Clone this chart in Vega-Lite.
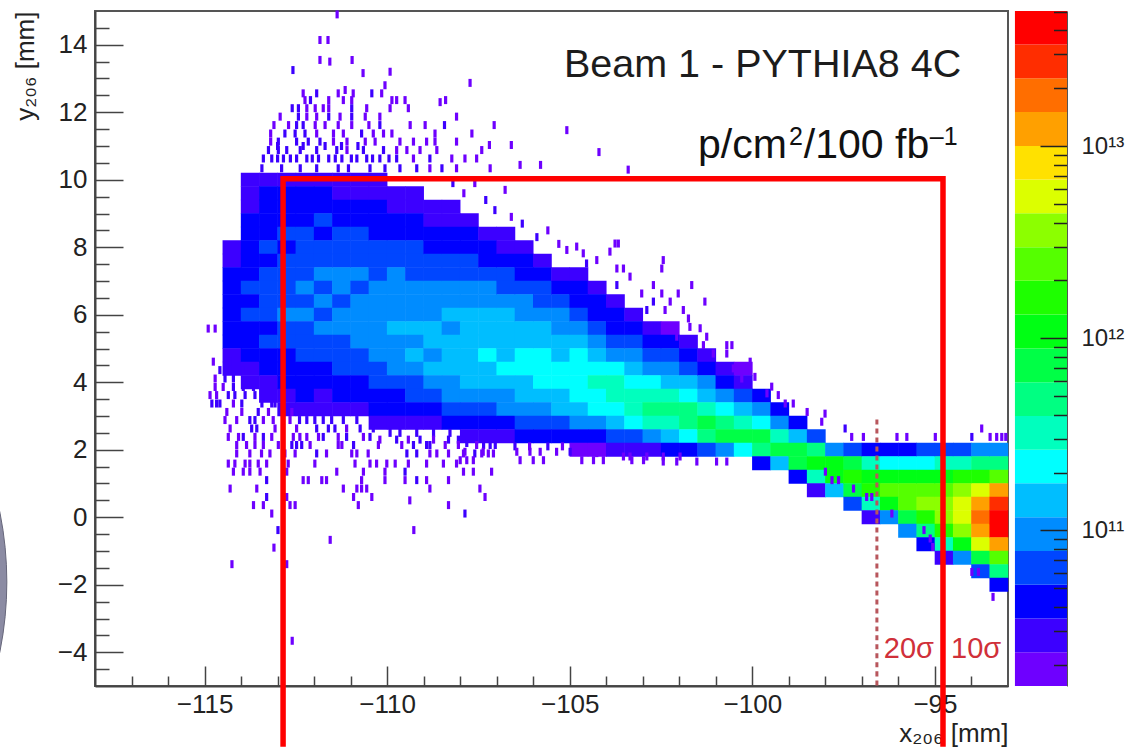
{"$schema":"https://vega.github.io/schema/vega-lite/v6.json","width":913,"height":675,"autosize":"none","padding":{"left":95,"top":11,"right":122,"bottom":61},"background":"white","config":{"font":"Liberation Sans","view":{"stroke":"#555","strokeWidth":2}},
"datasets":{"body":[
{"x":-114.25,"y":8,"v":3},{"x":-114.25,"y":7.6,"v":3},{"x":-114.25,"y":7.2,"v":4},{"x":-114.25,"y":6.8,"v":4},{"x":-114.25,"y":6.4,"v":4},{"x":-114.25,"y":6,"v":4},{"x":-114.25,"y":5.6,"v":4},{"x":-114.25,"y":5.2,"v":4},{"x":-114.25,"y":4.8,"v":3},{"x":-114.25,"y":4.4,"v":3},
{"x":-113.75,"y":10,"v":3},{"x":-113.75,"y":9.6,"v":3},{"x":-113.75,"y":9.2,"v":3},{"x":-113.75,"y":8.8,"v":4},{"x":-113.75,"y":8.4,"v":4},{"x":-113.75,"y":8,"v":4},{"x":-113.75,"y":7.6,"v":4},{"x":-113.75,"y":7.2,"v":4},{"x":-113.75,"y":6.8,"v":6},{"x":-113.75,"y":6.4,"v":4},{"x":-113.75,"y":6,"v":6},{"x":-113.75,"y":5.6,"v":4},{"x":-113.75,"y":5.2,"v":4},{"x":-113.75,"y":4.8,"v":4},{"x":-113.75,"y":4.4,"v":3},{"x":-113.75,"y":4,"v":3},
{"x":-113.25,"y":10,"v":3},{"x":-113.25,"y":9.6,"v":4},{"x":-113.25,"y":9.2,"v":4},{"x":-113.25,"y":8.8,"v":4},{"x":-113.25,"y":8.4,"v":4},{"x":-113.25,"y":8,"v":6},{"x":-113.25,"y":7.6,"v":4},{"x":-113.25,"y":7.2,"v":6},{"x":-113.25,"y":6.8,"v":6},{"x":-113.25,"y":6.4,"v":6},{"x":-113.25,"y":6,"v":6},{"x":-113.25,"y":5.6,"v":4},{"x":-113.25,"y":5.2,"v":6},{"x":-113.25,"y":4.8,"v":4},{"x":-113.25,"y":4.4,"v":4},{"x":-113.25,"y":4,"v":3},{"x":-113.25,"y":3.6,"v":3},
{"x":-112.75,"y":10,"v":3},{"x":-112.75,"y":9.6,"v":4},{"x":-112.75,"y":9.2,"v":4},{"x":-112.75,"y":8.8,"v":4},{"x":-112.75,"y":8.4,"v":6},{"x":-112.75,"y":8,"v":4},{"x":-112.75,"y":7.6,"v":6},{"x":-112.75,"y":7.2,"v":6},{"x":-112.75,"y":6.8,"v":6},{"x":-112.75,"y":6.4,"v":6},{"x":-112.75,"y":6,"v":10},{"x":-112.75,"y":5.6,"v":6},{"x":-112.75,"y":5.2,"v":6},{"x":-112.75,"y":4.8,"v":4},{"x":-112.75,"y":4.4,"v":4},{"x":-112.75,"y":4,"v":4},{"x":-112.75,"y":3.6,"v":3},{"x":-112.75,"y":3.2,"v":3},
{"x":-112.25,"y":10,"v":3},{"x":-112.25,"y":9.6,"v":4},{"x":-112.25,"y":9.2,"v":4},{"x":-112.25,"y":8.8,"v":4},{"x":-112.25,"y":8.4,"v":6},{"x":-112.25,"y":8,"v":6},{"x":-112.25,"y":7.6,"v":6},{"x":-112.25,"y":7.2,"v":6},{"x":-112.25,"y":6.8,"v":10},{"x":-112.25,"y":6.4,"v":6},{"x":-112.25,"y":6,"v":10},{"x":-112.25,"y":5.6,"v":6},{"x":-112.25,"y":5.2,"v":6},{"x":-112.25,"y":4.8,"v":6},{"x":-112.25,"y":4.4,"v":4},{"x":-112.25,"y":4,"v":4},{"x":-112.25,"y":3.6,"v":4},{"x":-112.25,"y":3.2,"v":3},
{"x":-111.75,"y":10,"v":3},{"x":-111.75,"y":9.6,"v":4},{"x":-111.75,"y":9.2,"v":4},{"x":-111.75,"y":8.8,"v":6},{"x":-111.75,"y":8.4,"v":4},{"x":-111.75,"y":8,"v":6},{"x":-111.75,"y":7.6,"v":6},{"x":-111.75,"y":7.2,"v":10},{"x":-111.75,"y":6.8,"v":6},{"x":-111.75,"y":6.4,"v":10},{"x":-111.75,"y":6,"v":6},{"x":-111.75,"y":5.6,"v":10},{"x":-111.75,"y":5.2,"v":6},{"x":-111.75,"y":4.8,"v":6},{"x":-111.75,"y":4.4,"v":4},{"x":-111.75,"y":4,"v":4},{"x":-111.75,"y":3.6,"v":3},{"x":-111.75,"y":3.2,"v":3},
{"x":-111.25,"y":10,"v":3},{"x":-111.25,"y":9.6,"v":3},{"x":-111.25,"y":9.2,"v":4},{"x":-111.25,"y":8.8,"v":4},{"x":-111.25,"y":8.4,"v":6},{"x":-111.25,"y":8,"v":6},{"x":-111.25,"y":7.6,"v":6},{"x":-111.25,"y":7.2,"v":10},{"x":-111.25,"y":6.8,"v":10},{"x":-111.25,"y":6.4,"v":6},{"x":-111.25,"y":6,"v":10},{"x":-111.25,"y":5.6,"v":10},{"x":-111.25,"y":5.2,"v":6},{"x":-111.25,"y":4.8,"v":6},{"x":-111.25,"y":4.4,"v":6},{"x":-111.25,"y":4,"v":4},{"x":-111.25,"y":3.6,"v":4},{"x":-111.25,"y":3.2,"v":3},
{"x":-110.75,"y":10,"v":3},{"x":-110.75,"y":9.6,"v":3},{"x":-110.75,"y":9.2,"v":4},{"x":-110.75,"y":8.8,"v":4},{"x":-110.75,"y":8.4,"v":6},{"x":-110.75,"y":8,"v":6},{"x":-110.75,"y":7.6,"v":6},{"x":-110.75,"y":7.2,"v":10},{"x":-110.75,"y":6.8,"v":6},{"x":-110.75,"y":6.4,"v":10},{"x":-110.75,"y":6,"v":10},{"x":-110.75,"y":5.6,"v":10},{"x":-110.75,"y":5.2,"v":10},{"x":-110.75,"y":4.8,"v":6},{"x":-110.75,"y":4.4,"v":6},{"x":-110.75,"y":4,"v":4},{"x":-110.75,"y":3.6,"v":4},{"x":-110.75,"y":3.2,"v":3},
{"x":-110.25,"y":10,"v":3},{"x":-110.25,"y":9.6,"v":3},{"x":-110.25,"y":9.2,"v":4},{"x":-110.25,"y":8.8,"v":4},{"x":-110.25,"y":8.4,"v":4},{"x":-110.25,"y":8,"v":6},{"x":-110.25,"y":7.6,"v":6},{"x":-110.25,"y":7.2,"v":6},{"x":-110.25,"y":6.8,"v":10},{"x":-110.25,"y":6.4,"v":10},{"x":-110.25,"y":6,"v":10},{"x":-110.25,"y":5.6,"v":10},{"x":-110.25,"y":5.2,"v":10},{"x":-110.25,"y":4.8,"v":10},{"x":-110.25,"y":4.4,"v":6},{"x":-110.25,"y":4,"v":6},{"x":-110.25,"y":3.6,"v":4},{"x":-110.25,"y":3.2,"v":4},{"x":-110.25,"y":2.8,"v":3},
{"x":-109.75,"y":9.6,"v":3},{"x":-109.75,"y":9.2,"v":3},{"x":-109.75,"y":8.8,"v":4},{"x":-109.75,"y":8.4,"v":4},{"x":-109.75,"y":8,"v":6},{"x":-109.75,"y":7.6,"v":6},{"x":-109.75,"y":7.2,"v":10},{"x":-109.75,"y":6.8,"v":10},{"x":-109.75,"y":6.4,"v":10},{"x":-109.75,"y":6,"v":10},{"x":-109.75,"y":5.6,"v":14},{"x":-109.75,"y":5.2,"v":10},{"x":-109.75,"y":4.8,"v":10},{"x":-109.75,"y":4.4,"v":10},{"x":-109.75,"y":4,"v":6},{"x":-109.75,"y":3.6,"v":4},{"x":-109.75,"y":3.2,"v":4},{"x":-109.75,"y":2.8,"v":3},
{"x":-109.25,"y":9.6,"v":3},{"x":-109.25,"y":9.2,"v":3},{"x":-109.25,"y":8.8,"v":4},{"x":-109.25,"y":8.4,"v":4},{"x":-109.25,"y":8,"v":6},{"x":-109.25,"y":7.6,"v":6},{"x":-109.25,"y":7.2,"v":6},{"x":-109.25,"y":6.8,"v":10},{"x":-109.25,"y":6.4,"v":10},{"x":-109.25,"y":6,"v":10},{"x":-109.25,"y":5.6,"v":14},{"x":-109.25,"y":5.2,"v":10},{"x":-109.25,"y":4.8,"v":14},{"x":-109.25,"y":4.4,"v":10},{"x":-109.25,"y":4,"v":6},{"x":-109.25,"y":3.6,"v":6},{"x":-109.25,"y":3.2,"v":4},{"x":-109.25,"y":2.8,"v":3},
{"x":-108.75,"y":9.2,"v":3},{"x":-108.75,"y":8.8,"v":3},{"x":-108.75,"y":8.4,"v":4},{"x":-108.75,"y":8,"v":4},{"x":-108.75,"y":7.6,"v":6},{"x":-108.75,"y":7.2,"v":6},{"x":-108.75,"y":6.8,"v":10},{"x":-108.75,"y":6.4,"v":10},{"x":-108.75,"y":6,"v":10},{"x":-108.75,"y":5.6,"v":14},{"x":-108.75,"y":5.2,"v":14},{"x":-108.75,"y":4.8,"v":10},{"x":-108.75,"y":4.4,"v":14},{"x":-108.75,"y":4,"v":10},{"x":-108.75,"y":3.6,"v":6},{"x":-108.75,"y":3.2,"v":4},{"x":-108.75,"y":2.8,"v":3},
{"x":-108.25,"y":9.2,"v":3},{"x":-108.25,"y":8.8,"v":3},{"x":-108.25,"y":8.4,"v":4},{"x":-108.25,"y":8,"v":4},{"x":-108.25,"y":7.6,"v":6},{"x":-108.25,"y":7.2,"v":6},{"x":-108.25,"y":6.8,"v":10},{"x":-108.25,"y":6.4,"v":10},{"x":-108.25,"y":6,"v":14},{"x":-108.25,"y":5.6,"v":10},{"x":-108.25,"y":5.2,"v":14},{"x":-108.25,"y":4.8,"v":14},{"x":-108.25,"y":4.4,"v":14},{"x":-108.25,"y":4,"v":10},{"x":-108.25,"y":3.6,"v":10},{"x":-108.25,"y":3.2,"v":6},{"x":-108.25,"y":2.8,"v":4},
{"x":-107.75,"y":8.8,"v":3},{"x":-107.75,"y":8.4,"v":4},{"x":-107.75,"y":8,"v":4},{"x":-107.75,"y":7.6,"v":6},{"x":-107.75,"y":7.2,"v":6},{"x":-107.75,"y":6.8,"v":10},{"x":-107.75,"y":6.4,"v":10},{"x":-107.75,"y":6,"v":14},{"x":-107.75,"y":5.6,"v":14},{"x":-107.75,"y":5.2,"v":14},{"x":-107.75,"y":4.8,"v":14},{"x":-107.75,"y":4.4,"v":14},{"x":-107.75,"y":4,"v":14},{"x":-107.75,"y":3.6,"v":10},{"x":-107.75,"y":3.2,"v":6},{"x":-107.75,"y":2.8,"v":4},{"x":-107.75,"y":2.4,"v":3},
{"x":-107.25,"y":8.4,"v":3},{"x":-107.25,"y":8,"v":4},{"x":-107.25,"y":7.6,"v":4},{"x":-107.25,"y":7.2,"v":6},{"x":-107.25,"y":6.8,"v":10},{"x":-107.25,"y":6.4,"v":10},{"x":-107.25,"y":6,"v":14},{"x":-107.25,"y":5.6,"v":14},{"x":-107.25,"y":5.2,"v":14},{"x":-107.25,"y":4.8,"v":21},{"x":-107.25,"y":4.4,"v":14},{"x":-107.25,"y":4,"v":14},{"x":-107.25,"y":3.6,"v":10},{"x":-107.25,"y":3.2,"v":6},{"x":-107.25,"y":2.8,"v":4},{"x":-107.25,"y":2.4,"v":3},
{"x":-106.75,"y":8.4,"v":3},{"x":-106.75,"y":8,"v":3},{"x":-106.75,"y":7.6,"v":4},{"x":-106.75,"y":7.2,"v":6},{"x":-106.75,"y":6.8,"v":6},{"x":-106.75,"y":6.4,"v":10},{"x":-106.75,"y":6,"v":14},{"x":-106.75,"y":5.6,"v":14},{"x":-106.75,"y":5.2,"v":14},{"x":-106.75,"y":4.8,"v":14},{"x":-106.75,"y":4.4,"v":21},{"x":-106.75,"y":4,"v":14},{"x":-106.75,"y":3.6,"v":10},{"x":-106.75,"y":3.2,"v":10},{"x":-106.75,"y":2.8,"v":4},{"x":-106.75,"y":2.4,"v":3},
{"x":-106.25,"y":8,"v":3},{"x":-106.25,"y":7.6,"v":4},{"x":-106.25,"y":7.2,"v":4},{"x":-106.25,"y":6.8,"v":6},{"x":-106.25,"y":6.4,"v":10},{"x":-106.25,"y":6,"v":10},{"x":-106.25,"y":5.6,"v":14},{"x":-106.25,"y":5.2,"v":14},{"x":-106.25,"y":4.8,"v":21},{"x":-106.25,"y":4.4,"v":21},{"x":-106.25,"y":4,"v":14},{"x":-106.25,"y":3.6,"v":14},{"x":-106.25,"y":3.2,"v":10},{"x":-106.25,"y":2.8,"v":6},{"x":-106.25,"y":2.4,"v":4},
{"x":-105.75,"y":7.6,"v":3},{"x":-105.75,"y":7.2,"v":4},{"x":-105.75,"y":6.8,"v":6},{"x":-105.75,"y":6.4,"v":6},{"x":-105.75,"y":6,"v":10},{"x":-105.75,"y":5.6,"v":14},{"x":-105.75,"y":5.2,"v":14},{"x":-105.75,"y":4.8,"v":21},{"x":-105.75,"y":4.4,"v":21},{"x":-105.75,"y":4,"v":21},{"x":-105.75,"y":3.6,"v":14},{"x":-105.75,"y":3.2,"v":10},{"x":-105.75,"y":2.8,"v":6},{"x":-105.75,"y":2.4,"v":4},
{"x":-105.25,"y":7.2,"v":3},{"x":-105.25,"y":6.8,"v":4},{"x":-105.25,"y":6.4,"v":6},{"x":-105.25,"y":6,"v":10},{"x":-105.25,"y":5.6,"v":10},{"x":-105.25,"y":5.2,"v":14},{"x":-105.25,"y":4.8,"v":14},{"x":-105.25,"y":4.4,"v":21},{"x":-105.25,"y":4,"v":21},{"x":-105.25,"y":3.6,"v":14},{"x":-105.25,"y":3.2,"v":14},{"x":-105.25,"y":2.8,"v":6},{"x":-105.25,"y":2.4,"v":4},
{"x":-104.75,"y":7.2,"v":3},{"x":-104.75,"y":6.8,"v":4},{"x":-104.75,"y":6.4,"v":4},{"x":-104.75,"y":6,"v":6},{"x":-104.75,"y":5.6,"v":10},{"x":-104.75,"y":5.2,"v":14},{"x":-104.75,"y":4.8,"v":21},{"x":-104.75,"y":4.4,"v":21},{"x":-104.75,"y":4,"v":21},{"x":-104.75,"y":3.6,"v":21},{"x":-104.75,"y":3.2,"v":14},{"x":-104.75,"y":2.8,"v":10},{"x":-104.75,"y":2.4,"v":4},{"x":-104.75,"y":2,"v":2},
{"x":-104.25,"y":6.8,"v":3},{"x":-104.25,"y":6.4,"v":4},{"x":-104.25,"y":6,"v":4},{"x":-104.25,"y":5.6,"v":6},{"x":-104.25,"y":5.2,"v":10},{"x":-104.25,"y":4.8,"v":14},{"x":-104.25,"y":4.4,"v":21},{"x":-104.25,"y":4,"v":32},{"x":-104.25,"y":3.6,"v":21},{"x":-104.25,"y":3.2,"v":21},{"x":-104.25,"y":2.8,"v":10},{"x":-104.25,"y":2.4,"v":4},{"x":-104.25,"y":2,"v":2},
{"x":-103.75,"y":6.4,"v":3},{"x":-103.75,"y":6,"v":4},{"x":-103.75,"y":5.6,"v":4},{"x":-103.75,"y":5.2,"v":6},{"x":-103.75,"y":4.8,"v":10},{"x":-103.75,"y":4.4,"v":21},{"x":-103.75,"y":4,"v":32},{"x":-103.75,"y":3.6,"v":32},{"x":-103.75,"y":3.2,"v":21},{"x":-103.75,"y":2.8,"v":14},{"x":-103.75,"y":2.4,"v":6},{"x":-103.75,"y":2,"v":3},
{"x":-103.25,"y":6,"v":3},{"x":-103.25,"y":5.6,"v":4},{"x":-103.25,"y":5.2,"v":6},{"x":-103.25,"y":4.8,"v":10},{"x":-103.25,"y":4.4,"v":14},{"x":-103.25,"y":4,"v":21},{"x":-103.25,"y":3.6,"v":32},{"x":-103.25,"y":3.2,"v":32},{"x":-103.25,"y":2.8,"v":21},{"x":-103.25,"y":2.4,"v":6},{"x":-103.25,"y":2,"v":3},
{"x":-102.75,"y":5.6,"v":3},{"x":-102.75,"y":5.2,"v":4},{"x":-102.75,"y":4.8,"v":6},{"x":-102.75,"y":4.4,"v":10},{"x":-102.75,"y":4,"v":21},{"x":-102.75,"y":3.6,"v":32},{"x":-102.75,"y":3.2,"v":48},{"x":-102.75,"y":2.8,"v":32},{"x":-102.75,"y":2.4,"v":10},{"x":-102.75,"y":2,"v":3},
{"x":-102.25,"y":5.6,"v":2},{"x":-102.25,"y":5.2,"v":4},{"x":-102.25,"y":4.8,"v":6},{"x":-102.25,"y":4.4,"v":10},{"x":-102.25,"y":4,"v":14},{"x":-102.25,"y":3.6,"v":32},{"x":-102.25,"y":3.2,"v":48},{"x":-102.25,"y":2.8,"v":32},{"x":-102.25,"y":2.4,"v":14},{"x":-102.25,"y":2,"v":4},
{"x":-101.75,"y":5.2,"v":3},{"x":-101.75,"y":4.8,"v":4},{"x":-101.75,"y":4.4,"v":6},{"x":-101.75,"y":4,"v":14},{"x":-101.75,"y":3.6,"v":21},{"x":-101.75,"y":3.2,"v":48},{"x":-101.75,"y":2.8,"v":48},{"x":-101.75,"y":2.4,"v":21},{"x":-101.75,"y":2,"v":4},
{"x":-101.25,"y":4.8,"v":3},{"x":-101.25,"y":4.4,"v":4},{"x":-101.25,"y":4,"v":10},{"x":-101.25,"y":3.6,"v":14},{"x":-101.25,"y":3.2,"v":32},{"x":-101.25,"y":2.8,"v":72},{"x":-101.25,"y":2.4,"v":48},{"x":-101.25,"y":2,"v":6},
{"x":-100.75,"y":4.4,"v":3},{"x":-100.75,"y":4,"v":4},{"x":-100.75,"y":3.6,"v":10},{"x":-100.75,"y":3.2,"v":21},{"x":-100.75,"y":2.8,"v":48},{"x":-100.75,"y":2.4,"v":72},{"x":-100.75,"y":2,"v":10},
{"x":-100.25,"y":4.4,"v":2},{"x":-100.25,"y":4,"v":3},{"x":-100.25,"y":3.6,"v":6},{"x":-100.25,"y":3.2,"v":14},{"x":-100.25,"y":2.8,"v":32},{"x":-100.25,"y":2.4,"v":72},{"x":-100.25,"y":2,"v":21},
{"x":-99.75,"y":3.6,"v":4},{"x":-99.75,"y":3.2,"v":10},{"x":-99.75,"y":2.8,"v":21},{"x":-99.75,"y":2.4,"v":72},{"x":-99.75,"y":2,"v":48},{"x":-99.75,"y":1.6,"v":4},
{"x":-99.25,"y":3.2,"v":4},{"x":-99.25,"y":2.8,"v":10},{"x":-99.25,"y":2.4,"v":32},{"x":-99.25,"y":2,"v":72},{"x":-99.25,"y":1.6,"v":14},
{"x":-98.75,"y":2.8,"v":4},{"x":-98.75,"y":2.4,"v":14},{"x":-98.75,"y":2,"v":72},{"x":-98.75,"y":1.6,"v":72},{"x":-98.75,"y":1.2,"v":4},
{"x":-98.25,"y":2.4,"v":6},{"x":-98.25,"y":2,"v":48},{"x":-98.25,"y":1.6,"v":108},{"x":-98.25,"y":1.2,"v":32},{"x":-98.25,"y":0.8,"v":3},
{"x":-97.75,"y":2,"v":10},{"x":-97.75,"y":1.6,"v":108},{"x":-97.75,"y":1.2,"v":108},{"x":-97.75,"y":0.8,"v":14},
{"x":-97.25,"y":2,"v":6},{"x":-97.25,"y":1.6,"v":72},{"x":-97.25,"y":1.2,"v":162},{"x":-97.25,"y":0.8,"v":72},{"x":-97.25,"y":0.4,"v":6},
{"x":-96.75,"y":2,"v":4},{"x":-96.75,"y":1.6,"v":32},{"x":-96.75,"y":1.2,"v":108},{"x":-96.75,"y":0.8,"v":162},{"x":-96.75,"y":0.4,"v":32},{"x":-96.75,"y":0,"v":3},
{"x":-96.25,"y":2,"v":4},{"x":-96.25,"y":1.6,"v":21},{"x":-96.25,"y":1.2,"v":108},{"x":-96.25,"y":0.8,"v":243},{"x":-96.25,"y":0.4,"v":108},{"x":-96.25,"y":0,"v":10},
{"x":-95.75,"y":2,"v":4},{"x":-95.75,"y":1.6,"v":21},{"x":-95.75,"y":1.2,"v":108},{"x":-95.75,"y":0.8,"v":243},{"x":-95.75,"y":0.4,"v":243},{"x":-95.75,"y":0,"v":72},{"x":-95.75,"y":-0.4,"v":10},
{"x":-95.25,"y":2,"v":6},{"x":-95.25,"y":1.6,"v":21},{"x":-95.25,"y":1.2,"v":108},{"x":-95.25,"y":0.8,"v":243},{"x":-95.25,"y":0.4,"v":365},{"x":-95.25,"y":0,"v":162},{"x":-95.25,"y":-0.4,"v":48},{"x":-95.25,"y":-0.8,"v":4},
{"x":-94.75,"y":2,"v":6},{"x":-94.75,"y":1.6,"v":32},{"x":-94.75,"y":1.2,"v":108},{"x":-94.75,"y":0.8,"v":243},{"x":-94.75,"y":0.4,"v":365},{"x":-94.75,"y":0,"v":365},{"x":-94.75,"y":-0.4,"v":162},{"x":-94.75,"y":-0.8,"v":32},{"x":-94.75,"y":-1.2,"v":3},
{"x":-94.25,"y":2,"v":6},{"x":-94.25,"y":1.6,"v":32},{"x":-94.25,"y":1.2,"v":162},{"x":-94.25,"y":0.8,"v":365},{"x":-94.25,"y":0.4,"v":548},{"x":-94.25,"y":0,"v":548},{"x":-94.25,"y":-0.4,"v":365},{"x":-94.25,"y":-0.8,"v":108},{"x":-94.25,"y":-1.2,"v":10},
{"x":-93.75,"y":2,"v":10},{"x":-93.75,"y":1.6,"v":48},{"x":-93.75,"y":1.2,"v":162},{"x":-93.75,"y":0.8,"v":548},{"x":-93.75,"y":0.4,"v":1230},{"x":-93.75,"y":0,"v":1840},{"x":-93.75,"y":-0.4,"v":1230},{"x":-93.75,"y":-0.8,"v":548},{"x":-93.75,"y":-1.2,"v":72},{"x":-93.75,"y":-1.6,"v":6},
{"x":-93.25,"y":2,"v":10},{"x":-93.25,"y":1.6,"v":48},{"x":-93.25,"y":1.2,"v":243},{"x":-93.25,"y":0.8,"v":1230},{"x":-93.25,"y":0.4,"v":2760},{"x":-93.25,"y":0,"v":4130},{"x":-93.25,"y":-0.4,"v":4130},{"x":-93.25,"y":-0.8,"v":1230},{"x":-93.25,"y":-1.2,"v":243},{"x":-93.25,"y":-1.6,"v":48},{"x":-93.25,"y":-2,"v":4}
],
"fine":[
{"x":-111.37,"y":14.9,"v":2},{"x":-111.84,"y":14.14,"v":2},{"x":-111.62,"y":14.14,"v":2},{"x":-112.58,"y":13.25,"v":3},{"x":-111.57,"y":13.5,"v":2},{"x":-110.66,"y":13.16,"v":2},{"x":-109.92,"y":13.2,"v":2},{"x":-111.15,"y":12.66,"v":2},{"x":-111.84,"y":13.55,"v":2},{"x":-110.96,"y":13.55,"v":2},{"x":-110.06,"y":12.8,"v":2},{"x":-108.55,"y":12.3,"v":2},{"x":-107.73,"y":12.87,"v":2},{"x":-105.08,"y":11.47,"v":2},{"x":-104.2,"y":10.82,"v":2},{"x":-103.4,"y":10.3,"v":2},{"x":-106.6,"y":11.03,"v":2},{"x":-107.2,"y":11.03,"v":2},{"x":-106.36,"y":10.44,"v":2},{"x":-105.8,"y":10.44,"v":2},{"x":-106.77,"y":9.7,"v":2},
{"x":-112.3,"y":12.56,"v":2},{"x":-111.93,"y":12.56,"v":3},{"x":-111.34,"y":12.56,"v":2},{"x":-110.93,"y":12.56,"v":2},{"x":-110.42,"y":12.56,"v":3},{"x":-110.15,"y":12.56,"v":2},
{"x":-112.25,"y":12.36,"v":2},{"x":-112.1,"y":12.36,"v":3},{"x":-111.6,"y":12.36,"v":2},{"x":-111.2,"y":12.36,"v":2},{"x":-110.97,"y":12.36,"v":2},{"x":-109.87,"y":12.36,"v":2},{"x":-109.74,"y":12.36,"v":2},{"x":-109.51,"y":12.36,"v":2},{"x":-108.4,"y":12.36,"v":2},
{"x":-112.6,"y":12.12,"v":3},{"x":-112.43,"y":12.12,"v":3},{"x":-112.2,"y":12.12,"v":2},{"x":-111.97,"y":12.12,"v":2},{"x":-111.75,"y":12.12,"v":2},{"x":-111.6,"y":12.12,"v":2},{"x":-110.97,"y":12.12,"v":3},{"x":-110.56,"y":12.12,"v":2},{"x":-109.92,"y":12.12,"v":2},{"x":-109.42,"y":12.12,"v":2},
{"x":-112.93,"y":11.87,"v":2},{"x":-112.43,"y":11.87,"v":3},{"x":-112.2,"y":11.87,"v":2},{"x":-111.93,"y":11.87,"v":2},{"x":-111.6,"y":11.87,"v":3},{"x":-111.29,"y":11.87,"v":2},{"x":-110.97,"y":11.87,"v":3},{"x":-110.6,"y":11.87,"v":2},{"x":-110.2,"y":11.87,"v":2},{"x":-108.1,"y":11.87,"v":2},
{"x":-113.1,"y":11.62,"v":2},{"x":-112.7,"y":11.62,"v":2},{"x":-112.48,"y":11.62,"v":3},{"x":-112.3,"y":11.62,"v":3},{"x":-111.97,"y":11.62,"v":2},{"x":-111.7,"y":11.62,"v":2},{"x":-111.34,"y":11.62,"v":2},{"x":-110.97,"y":11.62,"v":2},{"x":-110.5,"y":11.62,"v":2},{"x":-110.2,"y":11.62,"v":3},{"x":-109.37,"y":11.62,"v":2},{"x":-108.96,"y":11.62,"v":2},{"x":-108.43,"y":11.62,"v":3},{"x":-107.07,"y":11.62,"v":2},
{"x":-113.19,"y":11.37,"v":2},{"x":-112.8,"y":11.37,"v":3},{"x":-112.52,"y":11.37,"v":3},{"x":-112.25,"y":11.37,"v":3},{"x":-111.93,"y":11.37,"v":2},{"x":-111.47,"y":11.37,"v":2},{"x":-111.2,"y":11.37,"v":2},{"x":-110.7,"y":11.37,"v":3},{"x":-110.38,"y":11.37,"v":2},{"x":-110.1,"y":11.37,"v":2},{"x":-109.87,"y":11.37,"v":2},{"x":-108.69,"y":11.37,"v":2},{"x":-107.68,"y":11.37,"v":2},
{"x":-113.19,"y":11.13,"v":2},{"x":-112.98,"y":11.13,"v":3},{"x":-112.48,"y":11.13,"v":3},{"x":-112.16,"y":11.13,"v":3},{"x":-111.84,"y":11.13,"v":3},{"x":-111.47,"y":11.13,"v":2},{"x":-111.1,"y":11.13,"v":2},{"x":-110.6,"y":11.13,"v":2},{"x":-110.33,"y":11.13,"v":2},{"x":-109.65,"y":11.13,"v":2},{"x":-109.28,"y":11.13,"v":2},{"x":-108.92,"y":11.13,"v":2},{"x":-108.69,"y":11.13,"v":2},{"x":-108.1,"y":11.13,"v":2},{"x":-113.0,"y":11.0,"v":3},{"x":-112.3,"y":11.0,"v":3},{"x":-111.7,"y":11.0,"v":3},{"x":-111.25,"y":11.0,"v":3},{"x":-110.8,"y":11.0,"v":3},
{"x":-113.25,"y":10.88,"v":3},{"x":-112.98,"y":10.88,"v":3},{"x":-112.75,"y":10.88,"v":3},{"x":-112.38,"y":10.88,"v":3},{"x":-111.93,"y":10.88,"v":3},{"x":-111.38,"y":10.88,"v":3},{"x":-111.1,"y":10.88,"v":2},{"x":-110.65,"y":10.88,"v":3},{"x":-110.1,"y":10.88,"v":3},{"x":-109.74,"y":10.88,"v":2},{"x":-109.46,"y":10.88,"v":2},{"x":-109.1,"y":10.88,"v":2},{"x":-108.64,"y":10.88,"v":2},{"x":-107.41,"y":10.88,"v":2},
{"x":-113.39,"y":10.63,"v":3},{"x":-113.16,"y":10.63,"v":3},{"x":-112.84,"y":10.63,"v":3},{"x":-112.48,"y":10.63,"v":3},{"x":-112.2,"y":10.63,"v":3},{"x":-111.88,"y":10.63,"v":3},{"x":-111.6,"y":10.63,"v":3},{"x":-111.24,"y":10.63,"v":3},{"x":-110.83,"y":10.63,"v":3},{"x":-110.56,"y":10.63,"v":3},{"x":-110.2,"y":10.63,"v":3},{"x":-109.74,"y":10.63,"v":3},{"x":-109.28,"y":10.63,"v":2},{"x":-108.83,"y":10.63,"v":3},{"x":-108.23,"y":10.63,"v":2},{"x":-107.87,"y":10.63,"v":2},{"x":-107.55,"y":10.63,"v":2},{"x":-113.0,"y":10.63,"v":3},{"x":-112.65,"y":10.63,"v":3},{"x":-112.05,"y":10.63,"v":3},{"x":-111.42,"y":10.63,"v":3},{"x":-110.98,"y":10.63,"v":3},{"x":-110.4,"y":10.63,"v":3},{"x":-109.95,"y":10.63,"v":3},
{"x":-113.43,"y":10.34,"v":3},{"x":-112.89,"y":10.34,"v":3},{"x":-112.38,"y":10.34,"v":3},{"x":-111.93,"y":10.34,"v":3},{"x":-111.34,"y":10.34,"v":3},{"x":-111.06,"y":10.34,"v":3},{"x":-110.47,"y":10.34,"v":3},{"x":-110.06,"y":10.34,"v":3},{"x":-109.65,"y":10.34,"v":3},{"x":-109.19,"y":10.34,"v":3},{"x":-108.83,"y":10.34,"v":2},{"x":-108.5,"y":10.34,"v":3},{"x":-108.1,"y":10.34,"v":2},{"x":-107.18,"y":10.34,"v":2},
{"x":-108.2,"y":9.9,"v":3},{"x":-107.9,"y":9.6,"v":2},{"x":-107.6,"y":9.9,"v":2},{"x":-107.3,"y":9.4,"v":3},{"x":-107.05,"y":9.1,"v":3},{"x":-106.6,"y":8.9,"v":2},{"x":-106.3,"y":8.7,"v":3},{"x":-105.9,"y":8.3,"v":3},{"x":-105.6,"y":8.5,"v":2},{"x":-105.3,"y":8.1,"v":2},
{"x":-103.76,"y":8.11,"v":2},{"x":-103.67,"y":8.11,"v":2},{"x":-103.9,"y":7.87,"v":2},{"x":-102.44,"y":7.62,"v":2},{"x":-102.48,"y":7.37,"v":2},{"x":-101.66,"y":6.88,"v":2},{"x":-102.71,"y":6.88,"v":2},{"x":-102.48,"y":6.63,"v":2},{"x":-102.03,"y":6.63,"v":2},{"x":-101.3,"y":6.39,"v":2},{"x":-102.25,"y":6.39,"v":2},{"x":-101.89,"y":6.14,"v":2},{"x":-102.39,"y":6.14,"v":2},{"x":-101.75,"y":5.89,"v":2},{"x":-101.71,"y":5.64,"v":2},{"x":-101.43,"y":5.6,"v":2},{"x":-101.25,"y":5.35,"v":2},{"x":-100.7,"y":5.1,"v":2},{"x":-100.56,"y":5.1,"v":2},{"x":-101.34,"y":5.1,"v":2},{"x":-101.07,"y":4.85,"v":2},{"x":-100.7,"y":4.85,"v":2},{"x":-100.06,"y":4.61,"v":2},{"x":-100.52,"y":4.41,"v":2},{"x":-100.15,"y":4.36,"v":2},{"x":-99.93,"y":4.16,"v":2},{"x":-100.29,"y":4.11,"v":2},{"x":-99.47,"y":3.87,"v":2},{"x":-99.6,"y":3.67,"v":2},{"x":-99.29,"y":3.62,"v":2},{"x":-99.1,"y":3.37,"v":2},{"x":-98.88,"y":3.37,"v":2},{"x":-98.5,"y":3.12,"v":2},
{"x":-104.63,"y":7.82,"v":2},{"x":-104.81,"y":8.02,"v":2},{"x":-105.08,"y":7.92,"v":2},{"x":-104.54,"y":7.52,"v":3},{"x":-104.26,"y":7.62,"v":2},{"x":-103.71,"y":7.37,"v":2},{"x":-103.53,"y":7.37,"v":2},{"x":-103.35,"y":7.13,"v":2},{"x":-103.71,"y":6.88,"v":3},{"x":-103.03,"y":6.63,"v":2},{"x":-102.71,"y":6.39,"v":3},{"x":-102.89,"y":6.14,"v":3},{"x":-102.66,"y":5.64,"v":3},{"x":-102.35,"y":5.6,"v":2},{"x":-102.07,"y":5.35,"v":2},
{"x":-98.01,"y":3.07,"v":2},{"x":-98.1,"y":2.83,"v":2},{"x":-97.46,"y":2.63,"v":3},{"x":-97.28,"y":2.38,"v":2},{"x":-96.96,"y":2.38,"v":2},{"x":-96.04,"y":2.38,"v":2},{"x":-95.77,"y":2.38,"v":2},{"x":-94.99,"y":2.38,"v":2},{"x":-93.99,"y":2.38,"v":3},{"x":-93.72,"y":2.63,"v":2},{"x":-93.49,"y":2.38,"v":2},{"x":-93.31,"y":2.38,"v":2},{"x":-93.17,"y":2.38,"v":2},{"x":-93.06,"y":2.38,"v":2},
{"x":-98,"y":1.35,"v":2},{"x":-97.82,"y":1.1,"v":2},{"x":-97.64,"y":1.1,"v":2},{"x":-97.23,"y":0.85,"v":2},{"x":-96.87,"y":0.6,"v":2},{"x":-96.73,"y":0.6,"v":2},{"x":-96.18,"y":0.11,"v":2},{"x":-95.3,"y":-0.38,"v":2},{"x":-95.13,"y":-0.63,"v":2},{"x":-95.06,"y":-0.88,"v":2},{"x":-93.99,"y":-1.62,"v":2},{"x":-93.81,"y":-1.62,"v":2},{"x":-93.41,"y":-2.36,"v":2},
{"x":-114.9,"y":5.59,"v":2},{"x":-114.71,"y":5.59,"v":2},{"x":-114.76,"y":4.61,"v":2},{"x":-114.3,"y":4.61,"v":3},{"x":-114.58,"y":4.36,"v":3},{"x":-114.3,"y":4.36,"v":3},{"x":-113.94,"y":4.36,"v":3},{"x":-114.71,"y":4.11,"v":2},{"x":-114.44,"y":4.11,"v":3},{"x":-114.21,"y":4.11,"v":3},{"x":-114.71,"y":3.86,"v":2},{"x":-114.49,"y":3.86,"v":2},{"x":-114.21,"y":3.86,"v":3},{"x":-113.94,"y":3.86,"v":3},{"x":-113.66,"y":3.86,"v":3},{"x":-114.85,"y":3.62,"v":2},{"x":-114.67,"y":3.62,"v":2},{"x":-114.35,"y":3.62,"v":3},{"x":-114.17,"y":3.62,"v":3},{"x":-113.89,"y":3.62,"v":3},{"x":-113.62,"y":3.62,"v":3},{"x":-114.8,"y":3.37,"v":3},{"x":-114.67,"y":3.37,"v":3},{"x":-114.58,"y":3.37,"v":3},{"x":-114.21,"y":3.37,"v":2},{"x":-113.98,"y":3.37,"v":3},{"x":-113.43,"y":3.37,"v":3},{"x":-113.16,"y":3.37,"v":3},{"x":-113.07,"y":3.37,"v":3},
{"x":-114.39,"y":3.12,"v":2},{"x":-113.98,"y":3.12,"v":2},{"x":-113.53,"y":3.12,"v":3},{"x":-113.25,"y":3.12,"v":2},{"x":-112.61,"y":3.12,"v":2},{"x":-112.11,"y":3.12,"v":3},{"x":-111.88,"y":3.12,"v":3},{"x":-111.65,"y":3.12,"v":3},
{"x":-114.44,"y":2.88,"v":2},{"x":-114.12,"y":2.88,"v":2},{"x":-113.76,"y":2.88,"v":3},{"x":-113.62,"y":2.88,"v":3},{"x":-113.39,"y":2.88,"v":2},{"x":-113.12,"y":2.88,"v":2},{"x":-112.66,"y":2.88,"v":2},{"x":-112.4,"y":2.88,"v":3},{"x":-112.2,"y":2.88,"v":3},{"x":-111.98,"y":2.88,"v":3},{"x":-111.75,"y":2.88,"v":3},{"x":-111.52,"y":2.88,"v":3},{"x":-111.2,"y":2.88,"v":3},{"x":-110.83,"y":2.88,"v":3},
{"x":-114.3,"y":2.63,"v":2},{"x":-113.71,"y":2.63,"v":3},{"x":-113.57,"y":2.63,"v":3},{"x":-113.07,"y":2.63,"v":2},{"x":-112.48,"y":2.63,"v":2},{"x":-111.93,"y":2.63,"v":3},{"x":-111.61,"y":2.63,"v":3},{"x":-111.43,"y":2.63,"v":3},{"x":-111.11,"y":2.63,"v":2},{"x":-110.74,"y":2.63,"v":3},{"x":-110.38,"y":2.63,"v":3},{"x":-109.92,"y":2.5,"v":3},{"x":-109.65,"y":2.5,"v":3},{"x":-109.19,"y":2.5,"v":3},{"x":-108.73,"y":2.5,"v":3},{"x":-108.28,"y":2.5,"v":3},{"x":-107.82,"y":2.2,"v":3},
{"x":-114.35,"y":2.38,"v":2},{"x":-114.07,"y":2.38,"v":2},{"x":-113.94,"y":2.38,"v":3},{"x":-113.62,"y":2.38,"v":2},{"x":-113.39,"y":2.38,"v":3},{"x":-113.16,"y":2.38,"v":2},{"x":-112.57,"y":2.38,"v":2},{"x":-112.39,"y":2.38,"v":2},{"x":-112.2,"y":2.38,"v":2},{"x":-111.88,"y":2.38,"v":2},{"x":-111.75,"y":2.38,"v":3},{"x":-111.34,"y":2.38,"v":2},{"x":-111.11,"y":2.38,"v":3},{"x":-110.65,"y":2.38,"v":2},{"x":-110.47,"y":2.38,"v":3},{"x":-110.2,"y":2.3,"v":2},{"x":-109.74,"y":2.3,"v":3},{"x":-109.42,"y":2.3,"v":2},{"x":-109.1,"y":2.3,"v":3},{"x":-108.73,"y":2.3,"v":2},{"x":-108.32,"y":2.3,"v":3},{"x":-108.05,"y":2.3,"v":3},
{"x":-114.12,"y":2.14,"v":2},{"x":-113.85,"y":2.14,"v":2},{"x":-113.62,"y":2.14,"v":2},{"x":-113.39,"y":2.14,"v":2},{"x":-112.98,"y":2.14,"v":2},{"x":-112.61,"y":2.14,"v":3},{"x":-112.48,"y":2.14,"v":3},{"x":-112.34,"y":2.14,"v":3},{"x":-112.11,"y":2.14,"v":2},{"x":-111.34,"y":2.14,"v":2},{"x":-111.24,"y":2.14,"v":2},{"x":-110.92,"y":2.14,"v":3},{"x":-110.24,"y":2.14,"v":2},{"x":-109.6,"y":2.14,"v":2},{"x":-109.28,"y":2.14,"v":3},{"x":-108.92,"y":2.14,"v":3},{"x":-108.83,"y":2.14,"v":3},{"x":-108.41,"y":2.14,"v":2},{"x":-108.05,"y":2.14,"v":2},{"x":-107.55,"y":2.14,"v":2},{"x":-107.36,"y":2.14,"v":3},{"x":-107.18,"y":2.14,"v":3},{"x":-107.04,"y":2.14,"v":3},{"x":-106.5,"y":2.1,"v":3},{"x":-106.1,"y":2.1,"v":2},{"x":-105.6,"y":2.1,"v":3},{"x":-105.2,"y":2.1,"v":2},
{"x":-114.12,"y":1.89,"v":2},{"x":-113.76,"y":1.89,"v":2},{"x":-113.44,"y":1.89,"v":2},{"x":-113.21,"y":1.89,"v":2},{"x":-112.8,"y":1.89,"v":2},{"x":-112.52,"y":1.89,"v":2},{"x":-111.93,"y":1.89,"v":3},{"x":-111.66,"y":1.89,"v":2},{"x":-110.97,"y":1.89,"v":2},{"x":-110.83,"y":1.89,"v":2},{"x":-110.52,"y":1.89,"v":2},{"x":-109.46,"y":1.89,"v":3},{"x":-109.19,"y":1.89,"v":3},{"x":-108.83,"y":1.89,"v":2},{"x":-108.64,"y":1.89,"v":2},{"x":-108.32,"y":1.89,"v":2},{"x":-107.91,"y":1.89,"v":2},{"x":-107.6,"y":1.89,"v":3},{"x":-107.41,"y":1.89,"v":2},{"x":-107.23,"y":1.89,"v":2},{"x":-107.09,"y":1.89,"v":2},
{"x":-107.87,"y":1.94,"v":2},{"x":-107.37,"y":1.94,"v":2},{"x":-106.45,"y":1.94,"v":2},{"x":-106.09,"y":1.94,"v":2},{"x":-105.81,"y":1.94,"v":2},{"x":-105.36,"y":1.94,"v":2},{"x":-104.99,"y":1.94,"v":3},{"x":-104.63,"y":1.94,"v":2},{"x":-104.26,"y":1.9,"v":2},{"x":-103.53,"y":1.8,"v":2},{"x":-103.35,"y":1.8,"v":2},{"x":-102.89,"y":1.8,"v":2},{"x":-102.44,"y":1.8,"v":2},{"x":-101.98,"y":1.8,"v":2},
{"x":-108,"y":1.69,"v":2},{"x":-107.82,"y":1.69,"v":2},{"x":-107.64,"y":1.69,"v":2},{"x":-106.36,"y":1.69,"v":2},{"x":-106,"y":1.69,"v":2},{"x":-105.72,"y":1.69,"v":2},{"x":-104.67,"y":1.69,"v":2},{"x":-104.35,"y":1.69,"v":2},{"x":-104.08,"y":1.69,"v":2},{"x":-103.3,"y":1.69,"v":2},{"x":-102.98,"y":1.69,"v":2},{"x":-102.44,"y":1.65,"v":2},{"x":-102.07,"y":1.65,"v":2},{"x":-101.52,"y":1.65,"v":2},{"x":-100.98,"y":1.65,"v":2},{"x":-100.7,"y":1.65,"v":2},
{"x":-114.35,"y":1.59,"v":2},{"x":-114.17,"y":1.59,"v":2},{"x":-113.89,"y":1.59,"v":2},{"x":-113.76,"y":1.59,"v":2},{"x":-113.53,"y":1.59,"v":2},{"x":-113.3,"y":1.59,"v":2},{"x":-112.71,"y":1.59,"v":2},{"x":-111.98,"y":1.59,"v":2},{"x":-110.88,"y":1.59,"v":2},{"x":-110.47,"y":1.59,"v":2},{"x":-110.29,"y":1.59,"v":2},{"x":-110.01,"y":1.59,"v":2},{"x":-109.78,"y":1.59,"v":2},{"x":-109.42,"y":1.59,"v":2},{"x":-108.92,"y":1.59,"v":2},{"x":-108.46,"y":1.59,"v":2},{"x":-108.1,"y":1.59,"v":2},
{"x":-114.21,"y":1.35,"v":2},{"x":-113.94,"y":1.35,"v":2},{"x":-113.76,"y":1.35,"v":2},{"x":-113.48,"y":1.35,"v":2},{"x":-112.75,"y":1.35,"v":2},{"x":-111.38,"y":1.35,"v":2},{"x":-110.65,"y":1.35,"v":2},{"x":-110.06,"y":1.35,"v":2},{"x":-109.51,"y":1.35,"v":3},{"x":-107.91,"y":1.35,"v":2},{"x":-107.64,"y":1.35,"v":2},{"x":-107.14,"y":1.35,"v":2},
{"x":-113.3,"y":1.1,"v":3},{"x":-112.3,"y":1.1,"v":2},{"x":-112.16,"y":1.1,"v":2},{"x":-111.79,"y":1.1,"v":2},{"x":-111.66,"y":1.1,"v":2},{"x":-110.7,"y":1.1,"v":2},{"x":-110.06,"y":1.1,"v":2},{"x":-109.51,"y":1.1,"v":2},{"x":-109.19,"y":1.1,"v":3},{"x":-108.92,"y":1.1,"v":2},{"x":-108.32,"y":1.1,"v":2},
{"x":-114.3,"y":0.85,"v":2},{"x":-113.57,"y":0.85,"v":2},{"x":-111.2,"y":0.85,"v":2},{"x":-110.83,"y":0.85,"v":2},{"x":-110.7,"y":0.85,"v":2},{"x":-110.56,"y":0.85,"v":2},{"x":-108.83,"y":0.85,"v":2},{"x":-107.46,"y":0.85,"v":2},
{"x":-113.3,"y":0.6,"v":3},{"x":-112.75,"y":0.6,"v":2},{"x":-110.92,"y":0.6,"v":2},{"x":-110.42,"y":0.6,"v":2},{"x":-107.32,"y":0.6,"v":2},{"x":-109.38,"y":0.5,"v":2},
{"x":-113.66,"y":0.36,"v":2},{"x":-113.39,"y":0.36,"v":2},{"x":-112.66,"y":0.36,"v":2},{"x":-112.52,"y":0.36,"v":2},{"x":-110.79,"y":0.36,"v":2},{"x":-108.32,"y":0.36,"v":2},
{"x":-113.16,"y":0.11,"v":2},{"x":-107.87,"y":0.11,"v":3},{"x":-112.99,"y":-0.38,"v":3},{"x":-109.27,"y":-0.38,"v":2},{"x":-111.56,"y":-0.67,"v":2},{"x":-113.1,"y":-0.9,"v":2},{"x":-114.25,"y":-1.39,"v":2},{"x":-112.75,"y":-1.39,"v":2},{"x":-112.6,"y":-3.66,"v":2}
],
"bands":[{"lo":1.55,"hi":2.32,"v":2},{"lo":2.32,"hi":3.48,"v":3},{"lo":3.48,"hi":5.22,"v":4},{"lo":5.22,"hi":7.82,"v":6},{"lo":7.82,"hi":11.7,"v":10},{"lo":11.7,"hi":17.6,"v":14},{"lo":17.6,"hi":26.3,"v":21},{"lo":26.3,"hi":39.4,"v":32},{"lo":39.4,"hi":59.1,"v":48},{"lo":59.1,"hi":88.6,"v":72},{"lo":88.6,"hi":133,"v":108},{"lo":133,"hi":199,"v":162},{"lo":199,"hi":298,"v":243},{"lo":298,"hi":447,"v":365},{"lo":447,"hi":670,"v":548},{"lo":670,"hi":1003,"v":820},{"lo":1003,"hi":1504,"v":1230},{"lo":1504,"hi":2254,"v":1840},{"lo":2254,"hi":3378,"v":2760},{"lo":3378,"hi":5050,"v":4130}],
"frame":[{"i":0,"x":-112.85,"y":-6.8},{"i":1,"x":-112.85,"y":10.03},{"i":2,"x":-94.78,"y":10.03},{"i":3,"x":-94.78,"y":-6.8}],
"big":[{"t":"p/cm","x":-101.49,"y":10.64},{"t":"/100 fb","x":-98.59,"y":10.64}],
"sup":[{"t":"2","x":-99,"y":11.03},{"t":"–1","x":-95.14,"y":11.03}],
"sigma":[{"t":"20σ","x":-96.4,"y":-4.17},{"t":"10σ","x":-94.56,"y":-4.17}]},
"layer":[{"encoding":{"x":{"field":"x","type":"quantitative","scale":{"domain":[-118,-93]},"axis":{"values":[-117,-116,-115,-114,-113,-112,-111,-110,-109,-108,-107,-106,-105,-104,-103,-102,-101,-100,-99,-98,-97,-96,-95,-94],"tickCount":200,"labelExpr":"datum.value%5==0?format(datum.value,'d'):''","labelOverlap":false,"labelFlush":false,"labelFontSize":26,"labelColor":"#222","labelPadding":25,"tickSize":{"condition":{"test":"datum.value%5==0","value":-20},"value":-10},"tickColor":"#444","tickWidth":1.5,"domainColor":"#444","domainWidth":2,"grid":false,"title":"x₂₀₆ [mm]","titleFontSize":26,"titleFontWeight":"normal","titleColor":"#222","titleAnchor":"end","titleY":55,"titleBaseline":"alphabetic"}},"y":{"field":"y","type":"quantitative","scale":{"domain":[-5,15]},"axis":{"values":[-4.5,-4,-3.5,-3,-2.5,-2,-1.5,-1,-0.5,0,0.5,1,1.5,2,2.5,3,3.5,4,4.5,5,5.5,6,6.5,7,7.5,8,8.5,9,9.5,10,10.5,11,11.5,12,12.5,13,13.5,14,14.5],"tickCount":200,"labelExpr":"datum.value%2==0?format(datum.value,'d'):''","labelOverlap":false,"labelFlush":false,"labelFontSize":26,"labelColor":"#222","labelPadding":36,"tickSize":{"condition":{"test":"datum.value%2==0","value":-28},"value":-14},"tickColor":"#444","tickWidth":1.5,"domainColor":"#444","domainWidth":2,"grid":false,"title":"y₂₀₆ [mm]","titleFontSize":26,"titleFontWeight":"normal","titleColor":"#222","titleAnchor":"end","titleX":-62,"titleY":0,"titleBaseline":"alphabetic"}}},"layer":[
{"data":{"values":[{"x":-130.08,"y":-1.92}]},"mark":{"type":"arc","radius":353,"theta":0,"theta2":6.2832,"clip":false,"color":"#8b8ba3","stroke":"#66667a","strokeWidth":1}},
{"data":{"name":"body"},"mark":{"type":"rect","width":18.8,"height":14},"encoding":{"color":{"field":"v","type":"quantitative","legend":null,"scale":{"type":"threshold","domain":[2.32,3.48,5.22,7.82,11.7,17.6,26.3,39.4,59.1,88.6,133,199,298,447,670,1003,1504,2254,3378],"range":["#6e00ff","#3c00ff","#0000ff","#0046ff","#008cff","#00beff","#00ffff","#00ffbe","#00ff82","#00ff46","#00ff14","#1eff00","#55ff00","#8cff00","#dcff00","#ffe100","#ffa000","#ff6e00","#ff2d00","#ff0000"]}}}},
{"data":{"name":"fine"},"mark":{"type":"rect","width":3.2,"height":8},"encoding":{"color":{"field":"v","type":"quantitative","legend":null,"scale":{"type":"threshold","domain":[2.32,3.48,5.22,7.82,11.7,17.6,26.3,39.4,59.1,88.6,133,199,298,447,670,1003,1504,2254,3378],"range":["#6e00ff","#3c00ff","#0000ff","#0046ff","#008cff","#00beff","#00ffff","#00ffbe","#00ff82","#00ff46","#00ff14","#1eff00","#55ff00","#8cff00","#dcff00","#ffe100","#ffa000","#ff6e00","#ff2d00","#ff0000"]}}}},
{"data":{"values":[{"x":-96.59,"y":2.9,"y2":-5}]},"mark":{"type":"rule","color":"#b8565c","strokeWidth":3,"strokeDash":[5,4]},"encoding":{"y2":{"field":"y2"}}},
{"data":{"name":"frame"},"mark":{"type":"line","color":"#ff0000","strokeWidth":5.5,"clip":false,"strokeJoin":"miter"},"encoding":{"order":{"field":"i"}}},
{"data":{"values":[{"t":"Beam 1 - PYTHIA8 4C","x":-105.16,"y":13.04}]},"mark":{"type":"text","align":"left","baseline":"alphabetic","fontSize":39.5,"color":"#1c1c1c"},"encoding":{"text":{"field":"t"}}},
{"data":{"name":"big"},"mark":{"type":"text","align":"left","baseline":"alphabetic","fontSize":41,"color":"#111"},"encoding":{"text":{"field":"t"}}},
{"data":{"name":"sup"},"mark":{"type":"text","align":"left","baseline":"alphabetic","fontSize":25,"color":"#111"},"encoding":{"text":{"field":"t"}}},
{"data":{"name":"sigma"},"mark":{"type":"text","align":"left","baseline":"alphabetic","fontSize":29,"color":"#d0303a","clip":false},"encoding":{"text":{"field":"t"}}}
]},
{"data":{"name":"bands"},"mark":{"type":"rect","clip":false},"encoding":{"x":{"datum":-92.81,"type":"quantitative","scale":{"domain":[-118,-93]}},"x2":{"datum":-91.38},"y":{"field":"lo","type":"quantitative","scale":{"type":"log","domain":[1.55,5050]},"axis":{"orient":"right","offset":59,"zindex":1,"title":null,"grid":false,"tickCount":200,"values":[2,3,4,5,6,7,8,9,10,20,30,40,50,60,70,80,90,100,200,300,400,500,600,700,800,900,1000,2000,3000,4000,5000],"labelExpr":"datum.value==10?'10¹¹':datum.value==100?'10¹²':datum.value==1000?'10¹³':''","labelOverlap":false,"labelFlush":false,"labelFontSize":24,"labelColor":"#222","labelPadding":41,"tickSize":{"condition":{"test":"datum.value==10||datum.value==100||datum.value==1000","value":-27},"value":-13.5},"tickColor":"#222","tickWidth":1.5,"domainColor":"#555","domainWidth":1}},"y2":{"field":"hi"},"color":{"field":"v","type":"quantitative","legend":null,"scale":{"type":"threshold","domain":[2.32,3.48,5.22,7.82,11.7,17.6,26.3,39.4,59.1,88.6,133,199,298,447,670,1003,1504,2254,3378],"range":["#6e00ff","#3c00ff","#0000ff","#0046ff","#008cff","#00beff","#00ffff","#00ffbe","#00ff82","#00ff46","#00ff14","#1eff00","#55ff00","#8cff00","#dcff00","#ffe100","#ffa000","#ff6e00","#ff2d00","#ff0000"]}}}}
],"resolve":{"scale":{"y":"independent"},"axis":{"y":"independent"}}}
